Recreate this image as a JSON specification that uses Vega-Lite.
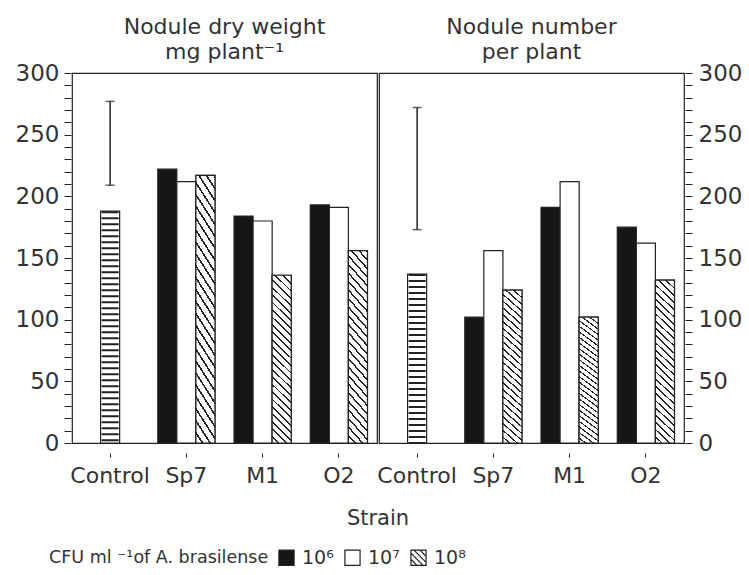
{
  "$schema": "https://vega.github.io/schema/vega-lite/v6.json",
  "padding": {"left": 15, "right": 5, "top": 16, "bottom": 5},
  "background": "white",
  "config": {
    "font": "DejaVu Sans",
    "view": {"stroke": "#222", "strokeWidth": 1.2},
    "axis": {"labelColor": "#333", "tickColor": "#222", "labelFontSize": 22, "grid": false, "domain": false, "labelFont": "DejaVu Sans"},
    "header": {"labelFontSize": 22, "labelColor": "#333", "titleFontSize": 21, "titleColor": "#333", "titleFontWeight": "normal", "labelFont": "DejaVu Sans", "titleFont": "DejaVu Sans"},
    "legend": {"labelFontSize": 19, "titleFontSize": 17.5, "titleFontWeight": "normal", "labelColor": "#333", "titleColor": "#333"}
  },
  "data": {
    "values": [
      {"panel": "weight", "strain": "Control", "value": 188, "lsd_low": 209, "lsd_high": 277},
      {"panel": "weight", "strain": "Sp7", "level": "10⁶", "value": 222},
      {"panel": "weight", "strain": "Sp7", "level": "10⁷", "value": 212},
      {"panel": "weight", "strain": "Sp7", "level": "10⁸", "value": 217},
      {"panel": "weight", "strain": "M1", "level": "10⁶", "value": 184},
      {"panel": "weight", "strain": "M1", "level": "10⁷", "value": 180},
      {"panel": "weight", "strain": "M1", "level": "10⁸", "value": 136},
      {"panel": "weight", "strain": "O2", "level": "10⁶", "value": 193},
      {"panel": "weight", "strain": "O2", "level": "10⁷", "value": 191},
      {"panel": "weight", "strain": "O2", "level": "10⁸", "value": 156},
      {"panel": "number", "strain": "Control", "value": 137, "lsd_low": 173, "lsd_high": 272},
      {"panel": "number", "strain": "Sp7", "level": "10⁶", "value": 102},
      {"panel": "number", "strain": "Sp7", "level": "10⁷", "value": 156},
      {"panel": "number", "strain": "Sp7", "level": "10⁸", "value": 124},
      {"panel": "number", "strain": "M1", "level": "10⁶", "value": 191},
      {"panel": "number", "strain": "M1", "level": "10⁷", "value": 212},
      {"panel": "number", "strain": "M1", "level": "10⁸", "value": 102},
      {"panel": "number", "strain": "O2", "level": "10⁶", "value": 175},
      {"panel": "number", "strain": "O2", "level": "10⁷", "value": 162},
      {"panel": "number", "strain": "O2", "level": "10⁸", "value": 132}
    ]
  },
  "facet": {
    "column": {
      "field": "panel",
      "type": "nominal",
      "sort": ["weight", "number"],
      "title": "Strain",
      "header": {
        "labelOrient": "top",
        "titleOrient": "bottom",
        "labelExpr": "datum.value === 'weight' ? ['Nodule dry weight', 'mg plant⁻¹'] : ['Nodule number', 'per plant']",
        "labelLineHeight": 25,
        "labelPadding": 8,
        "titlePadding": 12
      }
    }
  },
  "spacing": 0,
  "spec": {
    "width": 305,
    "height": 370,
    "resolve": {"axis": {"y": "independent"}},
    "layer": [
      {
        "transform": [{"filter": "datum.strain === 'Control'"}],
        "mark": {"type": "bar", "width": {"band": 0.25}, "fill": "white", "stroke": "#222", "strokeWidth": 1.2},
        "encoding": {
          "x": {"field": "strain", "type": "nominal", "sort": ["Control", "Sp7", "M1", "O2"], "scale": {"domain": ["Control", "Sp7", "M1", "O2"], "paddingInner": 0, "paddingOuter": 0}, "axis": {"title": null, "labelAngle": 0, "tickSize": 4, "labelPadding": 8}},
          "y": {"field": "value", "type": "quantitative", "scale": {"domain": [0, 300], "nice": false}, "axis": {"orient": "left", "title": null, "labelFontSize": 23, "values": [0,10,20,30,40,50,60,70,80,90,100,110,120,130,140,150,160,170,180,190,200,210,220,230,240,250,260,270,280,290,300], "labelExpr": "datum.value % 50 === 0 ? datum.label : ''", "tickSize": 7, "labelPadding": 5}}
        }
      },
      {
        "transform": [{"filter": "datum.strain === 'Control'"}],
        "mark": {"type": "rule", "strokeWidth": 17, "strokeDash": [2, 4], "color": "#222"},
        "encoding": {
          "x": {"field": "strain", "type": "nominal", "sort": ["Control", "Sp7", "M1", "O2"]},
          "y": {"field": "value", "type": "quantitative", "axis": null},
          "y2": {"datum": 0}
        }
      },
      {
        "transform": [{"filter": "datum.strain !== 'Control'"}],
        "mark": {"type": "bar", "stroke": "#222", "strokeWidth": 1.2},
        "encoding": {
          "x": {"field": "strain", "type": "nominal", "sort": ["Control", "Sp7", "M1", "O2"]},
          "xOffset": {"field": "level", "type": "nominal", "scale": {"domain": ["10⁶", "10⁷", "10⁸"], "paddingInner": 0, "paddingOuter": 0.5}},
          "y": {"field": "value", "type": "quantitative", "axis": null},
          "fill": {
            "field": "level",
            "type": "nominal",
            "scale": {"domain": ["10⁶", "10⁷", "10⁸", "-"], "range": ["#161616", "white", "white", "white"]},
            "legend": null
          }
        }
      },
      {
        "transform": [{"filter": "datum.level === '10⁸'"}],
        "mark": {"type": "bar", "stroke": "#222", "strokeWidth": 1.2, "fill": {"gradient": "linear", "x1": 0, "y1": 1, "x2": 0.1227, "y2": -0.098, "stops": [
          {"offset": 0, "color": "white"}, {"offset": 0.03, "color": "white"}, {"offset": 0.03, "color": "#222"}, {"offset": 0.04, "color": "#222"},
          {"offset": 0.04, "color": "white"}, {"offset": 0.07, "color": "white"}, {"offset": 0.07, "color": "#222"}, {"offset": 0.08, "color": "#222"},
          {"offset": 0.08, "color": "white"}, {"offset": 0.11, "color": "white"}, {"offset": 0.11, "color": "#222"}, {"offset": 0.12, "color": "#222"},
          {"offset": 0.12, "color": "white"}, {"offset": 0.15, "color": "white"}, {"offset": 0.15, "color": "#222"}, {"offset": 0.16, "color": "#222"},
          {"offset": 0.16, "color": "white"}, {"offset": 0.19, "color": "white"}, {"offset": 0.19, "color": "#222"}, {"offset": 0.2, "color": "#222"},
          {"offset": 0.2, "color": "white"}, {"offset": 0.23, "color": "white"}, {"offset": 0.23, "color": "#222"}, {"offset": 0.24, "color": "#222"},
          {"offset": 0.24, "color": "white"}, {"offset": 0.27, "color": "white"}, {"offset": 0.27, "color": "#222"}, {"offset": 0.28, "color": "#222"},
          {"offset": 0.28, "color": "white"}, {"offset": 0.31, "color": "white"}, {"offset": 0.31, "color": "#222"}, {"offset": 0.32, "color": "#222"},
          {"offset": 0.32, "color": "white"}, {"offset": 0.35, "color": "white"}, {"offset": 0.35, "color": "#222"}, {"offset": 0.36, "color": "#222"},
          {"offset": 0.36, "color": "white"}, {"offset": 0.39, "color": "white"}, {"offset": 0.39, "color": "#222"}, {"offset": 0.4, "color": "#222"},
          {"offset": 0.4, "color": "white"}, {"offset": 0.43, "color": "white"}, {"offset": 0.43, "color": "#222"}, {"offset": 0.44, "color": "#222"},
          {"offset": 0.44, "color": "white"}, {"offset": 0.47, "color": "white"}, {"offset": 0.47, "color": "#222"}, {"offset": 0.48, "color": "#222"},
          {"offset": 0.48, "color": "white"}, {"offset": 0.51, "color": "white"}, {"offset": 0.51, "color": "#222"}, {"offset": 0.52, "color": "#222"},
          {"offset": 0.52, "color": "white"}, {"offset": 0.55, "color": "white"}, {"offset": 0.55, "color": "#222"}, {"offset": 0.56, "color": "#222"},
          {"offset": 0.56, "color": "white"}, {"offset": 0.59, "color": "white"}, {"offset": 0.59, "color": "#222"}, {"offset": 0.6, "color": "#222"},
          {"offset": 0.6, "color": "white"}, {"offset": 0.63, "color": "white"}, {"offset": 0.63, "color": "#222"}, {"offset": 0.64, "color": "#222"},
          {"offset": 0.64, "color": "white"}, {"offset": 0.67, "color": "white"}, {"offset": 0.67, "color": "#222"}, {"offset": 0.68, "color": "#222"},
          {"offset": 0.68, "color": "white"}, {"offset": 0.71, "color": "white"}, {"offset": 0.71, "color": "#222"}, {"offset": 0.72, "color": "#222"},
          {"offset": 0.72, "color": "white"}, {"offset": 0.75, "color": "white"}, {"offset": 0.75, "color": "#222"}, {"offset": 0.76, "color": "#222"},
          {"offset": 0.76, "color": "white"}, {"offset": 0.79, "color": "white"}, {"offset": 0.79, "color": "#222"}, {"offset": 0.8, "color": "#222"},
          {"offset": 0.8, "color": "white"}, {"offset": 0.83, "color": "white"}, {"offset": 0.83, "color": "#222"}, {"offset": 0.84, "color": "#222"},
          {"offset": 0.84, "color": "white"}, {"offset": 0.87, "color": "white"}, {"offset": 0.87, "color": "#222"}, {"offset": 0.88, "color": "#222"},
          {"offset": 0.88, "color": "white"}, {"offset": 0.91, "color": "white"}, {"offset": 0.91, "color": "#222"}, {"offset": 0.92, "color": "#222"},
          {"offset": 0.92, "color": "white"}, {"offset": 0.95, "color": "white"}, {"offset": 0.95, "color": "#222"}, {"offset": 0.96, "color": "#222"},
          {"offset": 0.96, "color": "white"}, {"offset": 0.99, "color": "white"}, {"offset": 0.99, "color": "#222"}, {"offset": 1, "color": "#222"}
        ]}},
        "encoding": {
          "x": {"field": "strain", "type": "nominal", "sort": ["Control", "Sp7", "M1", "O2"]},
          "xOffset": {"field": "level", "type": "nominal", "scale": {"domain": ["10⁶", "10⁷", "10⁸"], "paddingInner": 0, "paddingOuter": 0.5}},
          "y": {"field": "value", "type": "quantitative", "axis": null}
        }
      },
      {
        "transform": [{"filter": "false"}],
        "mark": {"type": "point", "filled": true, "opacity": 1, "fillOpacity": 1, "stroke": "#222", "strokeWidth": 1.2},
        "encoding": {
          "x": {"field": "strain", "type": "nominal", "sort": ["Control", "Sp7", "M1", "O2"]},
          "y": {"field": "value", "type": "quantitative", "axis": null},
          "color": {
            "field": "level",
            "type": "nominal",
            "scale": {"domain": ["10⁶", "10⁷", "10⁸"], "range": ["#161616", "white", "white"]},
            "legend": {
              "orient": "none",
              "legendX": -23,
              "legendY": 475,
              "direction": "horizontal",
              "title": "CFU ml ⁻¹of A. brasilense",
              "titleOrient": "left",
              "titleLimit": 400,
              "titlePadding": 8,
              "symbolSize": 230,
              "symbolStrokeWidth": 1.2,
              "symbolStrokeColor": "#222",
              "symbolOpacity": 1,
              "columnPadding": 8,
              "labelOffset": 6,
              "encode": {
                "symbols": {
                  "update": {
                    "stroke": {"value": "#222"},
                    "strokeWidth": {"value": 1.2},
                    "size": {"value": 230},
                    "opacity": {"value": 1},
                    "fillOpacity": {"value": 1}
                  }
                }
              }
            }
          },
          "shape": {
            "field": "level",
            "type": "nominal",
            "scale": {"domain": ["10⁶", "10⁷", "10⁸"], "range": ["square", "square", "M-1,-1H1V1H-1Z M-1,0.2L-0.2,1 M-1,-0.6L0.6,1 M-0.6,-1L1,0.6 M0.2,-1L1,-0.2"]},
            "legend": {
              "orient": "none",
              "legendX": -23,
              "legendY": 475,
              "direction": "horizontal",
              "title": "CFU ml ⁻¹of A. brasilense",
              "titleOrient": "left",
              "titleLimit": 400,
              "titlePadding": 8,
              "symbolSize": 230,
              "columnPadding": 8,
              "labelOffset": 6
            }
          }
        }
      },
      {
        "transform": [{"filter": "datum.strain === 'Control'"}],
        "mark": {"type": "rule", "color": "#222", "strokeWidth": 1.5},
        "encoding": {
          "x": {"field": "strain", "type": "nominal", "sort": ["Control", "Sp7", "M1", "O2"]},
          "y": {"field": "lsd_low", "type": "quantitative", "axis": {"orient": "right", "title": null, "labelFontSize": 23, "values": [0,10,20,30,40,50,60,70,80,90,100,110,120,130,140,150,160,170,180,190,200,210,220,230,240,250,260,270,280,290,300], "labelExpr": "datum.value % 50 === 0 ? datum.label : ''", "tickSize": 7, "labelPadding": 6}},
          "y2": {"field": "lsd_high"}
        }
      },
      {
        "transform": [{"filter": "datum.strain === 'Control'"}],
        "mark": {"type": "tick", "color": "#222", "size": 9, "thickness": 1.5},
        "encoding": {
          "x": {"field": "strain", "type": "nominal", "sort": ["Control", "Sp7", "M1", "O2"]},
          "y": {"field": "lsd_low", "type": "quantitative", "axis": null}
        }
      },
      {
        "transform": [{"filter": "datum.strain === 'Control'"}],
        "mark": {"type": "tick", "color": "#222", "size": 9, "thickness": 1.5},
        "encoding": {
          "x": {"field": "strain", "type": "nominal", "sort": ["Control", "Sp7", "M1", "O2"]},
          "y": {"field": "lsd_high", "type": "quantitative", "axis": null}
        }
      }
    ]
  }
}
